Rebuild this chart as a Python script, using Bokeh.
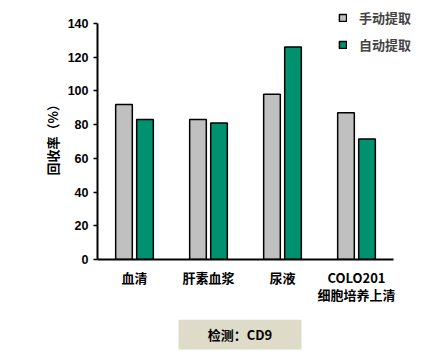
from bokeh.plotting import figure
from bokeh.models import (ColumnDataSource, Range1d, FixedTicker, Legend,
                          LegendItem, Title)
from bokeh.transform import dodge
from bokeh.layouts import column
from bokeh.core.properties import value
from bokeh.embed import file_html
from bokeh.resources import INLINE

categories = ["血清", "肝素血浆", "尿液", "COLO201"]
category_labels = ["血清", "肝素血浆", "尿液", "COLO201\n细胞培养上清"]
manual = [92, 83, 98, 87]
auto = [83, 81, 126, 71.5]
series_names = ["手动提取", "自动提取"]
y_ticks = [0, 20, 40, 60, 80, 100, 120, 140]
y_label = "回收率（%）"
footer_text = "检测：CD9"

GRAY = "#C0C0C0"
GREEN = "#00916E"
CJK = "Noto Sans CJK SC"
NUM = "Liberation Sans"

xpos = [i + 0.5 for i in range(len(categories))]
src = ColumnDataSource(dict(x=xpos, manual=manual, auto=auto))

# frame: x 97..443 px, y 0..259 px ; 74 px per category, 236 px per 140 units
X_END = 346 / 74
Y_END = 140 * 259 / 236
TOP_H = 319

p = figure(width=443, height=TOP_H, x_range=Range1d(0, X_END),
           y_range=Range1d(0, Y_END), output_backend="svg", toolbar_location=None,
           min_border_left=97, min_border_right=0, min_border_top=0,
           min_border_bottom=TOP_H - 259)
p.outline_line_color = None
p.xgrid.visible = False
p.ygrid.visible = False
p.background_fill_color = None
p.border_fill_color = "white"

r1 = p.vbar(x=dodge("x", -0.142), top="manual", width=0.225,
            source=src, fill_color=GRAY, line_color="black", line_width=1.5)
r2 = p.vbar(x=dodge("x", 0.142), top="auto", width=0.225,
            source=src, fill_color=GREEN, line_color="black", line_width=1.5)

# y axis
ya = p.yaxis[0]
ya.ticker = FixedTicker(ticks=y_ticks)
ya.bounds = (0, 140)
ya.axis_line_width = 2
ya.major_tick_line_width = 1.5
ya.major_tick_out = 4
ya.major_tick_in = 0
ya.minor_tick_line_color = None
ya.major_label_standoff = 5
ya.major_label_text_font = NUM
ya.major_label_text_font_style = "bold"
ya.major_label_text_font_size = "12.5px"
ya.major_label_text_color = "black"

ytitle = Title(text=y_label, align="left", text_font=CJK,
               text_font_style="bold", text_font_size="13px",
               text_color="black", standoff=6, offset=84)
p.add_layout(ytitle, "left")

# x axis
xa = p.xaxis[0]
xa.ticker = FixedTicker(ticks=xpos)
xa.bounds = (0, len(categories))
xa.axis_line_width = 2
xa.major_tick_line_color = None
xa.minor_tick_line_color = None
xa.major_label_overrides = {x: lab for x, lab in zip(xpos, category_labels)}
xa.major_label_text_font = CJK
xa.major_label_text_font_style = "bold"
xa.major_label_text_font_size = "13px"
xa.major_label_text_color = "black"
xa.major_label_text_line_height = 0.9
xa.major_label_standoff = 2

legend = Legend(items=[LegendItem(label=series_names[0], renderers=[r1]),
                       LegendItem(label=series_names[1], renderers=[r2])],
                location=(241, 205), orientation="vertical")
legend.glyph_width = 9
legend.glyph_height = 9
legend.label_height = 20
legend.spacing = 7
legend.padding = 0
legend.margin = 0
legend.label_standoff = 12
legend.label_text_font = CJK
legend.label_text_font_style = "bold"
legend.label_text_font_size = "13px"
legend.border_line_color = None
legend.background_fill_alpha = 0
p.add_layout(legend)

# footer box (its frame is aligned with the chart frame, which starts at x=97)
FOOT_H = 355 - TOP_H
f = figure(width=443, height=FOOT_H, x_range=Range1d(0, 346),
           y_range=Range1d(0, FOOT_H), output_backend="svg", toolbar_location=None,
           x_axis_location=None, y_axis_location=None,
           min_border_left=97, min_border_right=0,
           min_border_top=0, min_border_bottom=0)
f.grid.visible = False
f.outline_line_color = None
f.quad(left=[178 - 97], right=[301 - 97], bottom=[FOOT_H - 30], top=[FOOT_H],
       fill_color="#DEDBC8", line_color=None)
f.text(x=[239.5 - 97], y=[FOOT_H - 15], text=[footer_text], text_align="center",
       text_baseline="middle", text_font=value(CJK), text_font_style="bold",
       text_font_size="13px", text_color="black")

layout = column(p, f, spacing=0)
open("out.html", "w").write(file_html(layout, INLINE))
